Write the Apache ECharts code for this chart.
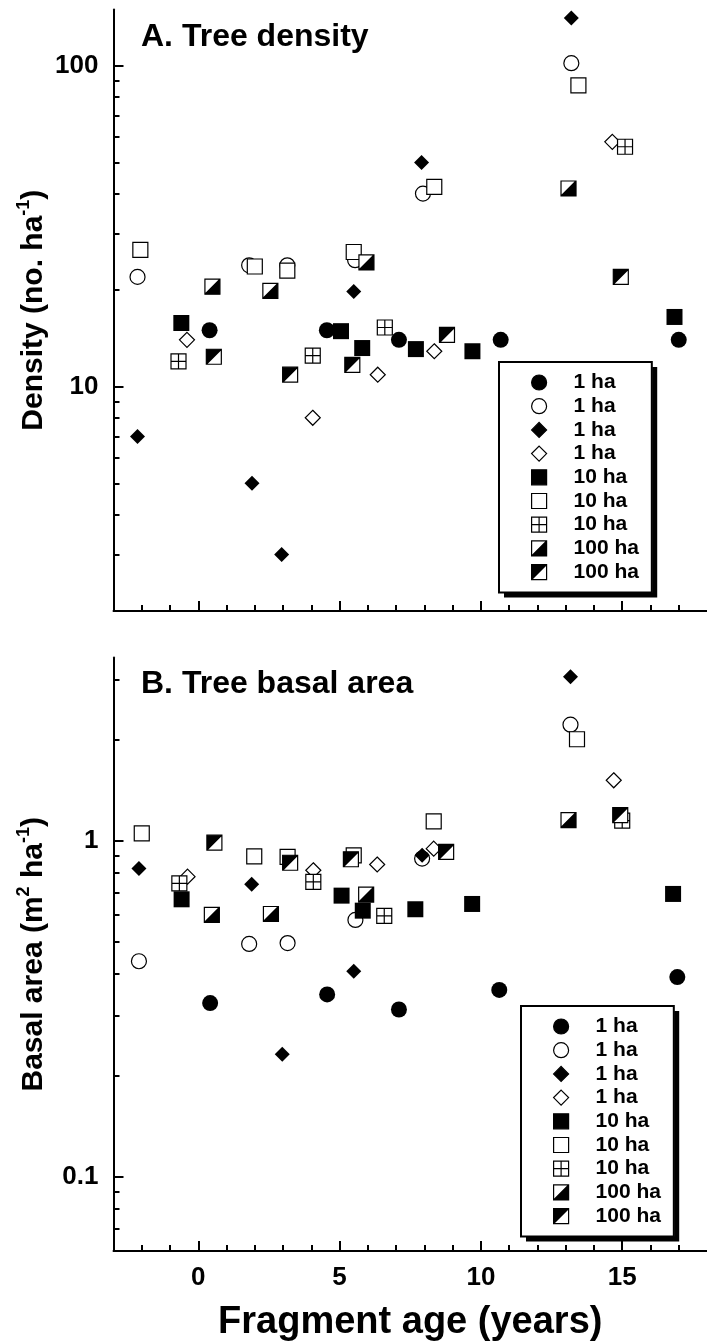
<!DOCTYPE html>
<html lang="en">
<head>
<meta charset="utf-8">
<title>Tree density and basal area vs fragment age</title>
<script src="https://cdn.jsdelivr.net/npm/echarts@6.0.0/dist/echarts.min.js"></script>
<style>
  html, body { margin: 0; padding: 0; background: #fff; }
  #main { width: 707px; height: 1343px; }
</style>
</head>
<body>
<div id="main"></div>
<script type="text/javascript">
    // ---- data: [fragment age, value] ----
    var densityFilledCircle  = [[0.4, 15], [4.55, 15], [7.1, 14], [10.7, 14], [17, 14]];
    var densityOpenCircle    = [[-2.15, 22], [1.8, 23.9], [3.15, 23.9], [5.55, 24.8], [7.95, 40], [13.2, 102]];
    var densityFilledDiamond = [[-2.15, 7], [1.9, 5], [2.95, 3], [5.5, 19.8], [7.9, 50], [13.2, 141]];
    var densityOpenDiamond   = [[-0.4, 14], [4.05, 8], [6.35, 10.9], [8.35, 12.9], [14.65, 58]];
    var densityFilledSquare  = [[-0.6, 15.8], [5.05, 14.9], [5.8, 13.2], [7.7, 13.1], [9.7, 12.9], [16.85, 16.5]];
    var densityOpenSquare    = [[-2.05, 26.7], [2.0, 23.7], [3.15, 23.0], [5.5, 26.3], [8.35, 42], [13.45, 87]];
    var densityCrossSquare   = [[-0.7, 12], [4.05, 12.5], [6.6, 15.3], [15.1, 56]];
    var densityHalfLower     = [[0.5, 20.5], [2.55, 19.9], [5.95, 24.4], [13.1, 41.5]];
    var densityHalfUpper     = [[0.55, 12.4], [3.25, 10.9], [5.45, 11.7], [8.8, 14.5], [14.95, 22]];

    var basalFilledCircle  = [[0.42, 0.328], [4.56, 0.348], [7.1, 0.314], [10.65, 0.359], [16.95, 0.392]];
    var basalOpenCircle    = [[-2.1, 0.437], [1.8, 0.492], [3.16, 0.495], [5.56, 0.58], [7.92, 0.883], [13.17, 2.21]];
    var basalFilledDiamond = [[-2.1, 0.825], [1.89, 0.741], [2.97, 0.231], [5.5, 0.408], [7.92, 0.903], [13.17, 3.07]];
    var basalOpenDiamond   = [[-0.38, 0.78], [4.07, 0.815], [6.33, 0.848], [8.33, 0.945], [14.7, 1.51]];
    var basalFilledSquare  = [[-0.59, 0.668], [5.07, 0.685], [5.82, 0.618], [7.68, 0.624], [9.69, 0.647], [16.8, 0.693]];
    var basalOpenSquare    = [[-2.0, 1.05], [1.98, 0.897], [3.16, 0.893], [5.5, 0.903], [8.33, 1.14], [13.4, 2.0]];
    var basalCrossSquare   = [[-0.67, 0.745], [4.07, 0.753], [6.58, 0.596], [15.0, 1.146]];
    var basalHalfLower     = [[0.48, 0.6], [2.57, 0.604], [5.94, 0.69], [13.1, 1.15]];
    var basalHalfUpper     = [[0.57, 0.985], [3.25, 0.858], [5.4, 0.879], [8.77, 0.924], [14.93, 1.19]];

    // tick positions
    var ageTicksMajor = [0, 5, 10, 15];
    var ageTicksMinor = [-2, -1, 1, 2, 3, 4, 6, 7, 8, 9, 11, 12, 13, 14, 16, 17];
    var densityTicksMajor = [10, 100];
    var densityTicksMinor = [3, 4, 5, 6, 7, 8, 9, 20, 30, 40, 50, 60, 70, 80, 90];
    var basalTicksMajor = [0.1, 1];
    var basalTicksMinor = [0.07, 0.08, 0.09, 0.2, 0.3, 0.4, 0.5, 0.6, 0.7, 0.8, 0.9, 2, 3];

    // legend labels repeat, trailing spaces keep them apart
    var legendNames = ['1 ha', '1 ha ', '1 ha  ', '1 ha   ', '10 ha', '10 ha ', '10 ha  ', '100 ha', '100 ha '];

    var FONT = '"Liberation Sans", Arial, Helvetica, sans-serif';

    // path symbols keep their square shape in the legend
    var SQUARE = 'path://M0 0H10V10H0Z';
    var DIAMOND = 'path://M5 0L10 5L5 10L0 5Z';
    var CROSSED = 'path://M0 0H10V10H0Z M5 0V10 M0 5H10';
    var HALF = 'path://M0 0H10V10H0Z M0 10L10 0';

    function halfFill(lowerRight) {
        var b = '#000', w = '#fff';
        var a = lowerRight ? w : b, c = lowerRight ? b : w;
        return new echarts.graphic.LinearGradient(0, 0, 1, 1, [
            {offset: 0, color: a}, {offset: 0.5, color: a},
            {offset: 0.5, color: c}, {offset: 1, color: c}
        ]);
    }
    var solid = {color: '#000', borderColor: '#000', borderWidth: 0, opacity: 1};
    var open = {color: '#fff', borderColor: '#000', borderWidth: 1.2, opacity: 1};
    // marker looks, same order as legendNames
    var markers = [
        {symbol: 'circle', size: 16, style: solid},
        {symbol: 'circle', size: 15, style: open},
        {symbol: DIAMOND, size: 15, style: solid},
        {symbol: DIAMOND, size: 15, style: open},
        {symbol: SQUARE, size: 16, style: solid},
        {symbol: SQUARE, size: 15, style: open},
        {symbol: CROSSED, size: 15, style: open},
        {symbol: HALF, size: 15,
            style: {color: halfFill(true), borderColor: '#000', borderWidth: 1.2, opacity: 1}},
        {symbol: HALF, size: 15,
            style: {color: halfFill(false), borderColor: '#000', borderWidth: 1.2, opacity: 1}}
    ];

    var densitySets = [densityFilledCircle, densityOpenCircle, densityFilledDiamond, densityOpenDiamond,
        densityFilledSquare, densityOpenSquare, densityCrossSquare, densityHalfLower, densityHalfUpper];
    var basalSets = [basalFilledCircle, basalOpenCircle, basalFilledDiamond, basalOpenDiamond,
        basalFilledSquare, basalOpenSquare, basalCrossSquare, basalHalfLower, basalHalfUpper];

    var tickLine = {color: '#000', width: 2};
    var labelStyle = {color: '#000', fontSize: 26, fontWeight: 'bold', fontFamily: FONT};

    function ageAxes(gridIndex, withLabels) {
        return [{
            type: 'value', gridIndex: gridIndex, position: 'bottom', min: -3, max: 18,
            axisLine: {onZero: false, lineStyle: tickLine},
            axisTick: {inside: true, length: 10, customValues: ageTicksMajor, lineStyle: tickLine},
            axisLabel: Object.assign({show: withLabels, customValues: ageTicksMajor, margin: 14}, labelStyle),
            splitLine: {show: false},
            name: withLabels ? 'Fragment age (years)' : '',
            nameLocation: 'middle', nameGap: 53, nameMoveOverlap: false,
            nameTextStyle: {color: '#000', fontSize: 38, fontWeight: 'bold', fontFamily: FONT}
        }, {
            // minor ticks only
            type: 'value', gridIndex: gridIndex, position: 'bottom', min: -3, max: 18,
            axisLine: {show: false, onZero: false},
            axisTick: {inside: true, length: 6, customValues: ageTicksMinor, lineStyle: tickLine},
            axisLabel: {show: false},
            splitLine: {show: false}
        }];
    }

    function logAxes(gridIndex, min, max, major, minor, name) {
        var sup = {fontSize: 18, fontWeight: 'bold', fontFamily: FONT, color: '#000',
            verticalAlign: 'top', lineHeight: 22};
        return [{
            type: 'log', logBase: 10, gridIndex: gridIndex, position: 'left', min: min, max: max,
            axisLine: {onZero: false, lineStyle: tickLine},
            axisTick: {inside: true, length: 10, customValues: major, lineStyle: tickLine},
            axisLabel: Object.assign({customValues: major, margin: 15,
                formatter: function (v) { return String(+(+v).toPrecision(3)); }}, labelStyle),
            splitLine: {show: false},
            name: name, nameLocation: 'middle', nameGap: 62, nameMoveOverlap: false,
            nameTextStyle: {color: '#000', fontSize: 30, fontWeight: 'bold', fontFamily: FONT,
                lineHeight: 36, rich: {sup: sup}}
        }, {
            // minor ticks only
            type: 'log', logBase: 10, gridIndex: gridIndex, position: 'left', min: min, max: max,
            axisLine: {show: false, onZero: false},
            axisTick: {inside: true, length: 6, customValues: minor, lineStyle: tickLine},
            axisLabel: {show: false},
            splitLine: {show: false}
        }];
    }

    // the framed legend, plus an invisible copy under it that only casts the offset shadow
    function legendBox(left, top, shadowOnly) {
        var box = {
            data: legendNames, orient: 'vertical', left: left, top: top,
            selectedMode: false,
            itemWidth: 15, itemHeight: 15, itemGap: 2.7,
            padding: [10, 7, 10, 32],
            backgroundColor: '#fff', borderColor: '#000', borderWidth: 2,
            itemStyle: {borderWidth: 1.2},
            textStyle: {color: '#000', fontSize: 21, fontWeight: 'bold', fontFamily: FONT,
                padding: [0, 0, 0, 22]},
            z: 5
        };
        if (shadowOnly) {
            box.z = 4;
            box.borderWidth = 0;
            box.shadowColor = '#000';
            box.shadowBlur = 0;
            box.shadowOffsetX = 5;
            box.shadowOffsetY = 5;
            box.itemStyle = {opacity: 0, color: 'rgba(0,0,0,0)', borderColor: 'rgba(0,0,0,0)'};
            box.textStyle = Object.assign({}, box.textStyle, {color: 'rgba(0,0,0,0)'});
        }
        return box;
    }

    var series = [];
    function addPanel(sets, xIndex, yIndex) {
        for (var i = 0; i < sets.length; i++) {
            series.push({
                name: legendNames[i], type: 'scatter',
                xAxisIndex: xIndex, yAxisIndex: yIndex,
                symbol: markers[i].symbol, symbolSize: markers[i].size,
                itemStyle: markers[i].style,
                data: sets[i]
            });
        }
    }
    addPanel(densitySets, 0, 0);
    addPanel(basalSets, 2, 2);

    var myChart = echarts.init(document.getElementById('main'));

    var option = {
        animation: false,
        backgroundColor: '#fff',
        title: [
            {text: 'A. Tree density', left: 141, top: 21, padding: 0,
                textStyle: {color: '#000', fontSize: 32, fontWeight: 'bold', fontFamily: FONT}},
            {text: 'B. Tree basal area', left: 141, top: 668, padding: 0,
                textStyle: {color: '#000', fontSize: 32, fontWeight: 'bold', fontFamily: FONT}}
        ],
        legend: [
            legendBox(499, 362, true), legendBox(499, 362, false),
            legendBox(521, 1006, true), legendBox(521, 1006, false)
        ],
        grid: [
            {left: 113.5, top: 9.5, width: 594, height: 601.4},
            {left: 113.5, top: 657.6, width: 594, height: 597.4}
        ],
        xAxis: ageAxes(0, false).concat(ageAxes(1, true)),
        yAxis: logAxes(0, 2, 150, densityTicksMajor, densityTicksMinor, 'Density (no. ha{sup|-1})')
            .concat(logAxes(1, 0.06, 3.5, basalTicksMajor, basalTicksMinor, 'Basal area (m{sup|2} ha{sup|-1})')),
        series: series
    };

    myChart.setOption(option);
</script>
</body>
</html>
